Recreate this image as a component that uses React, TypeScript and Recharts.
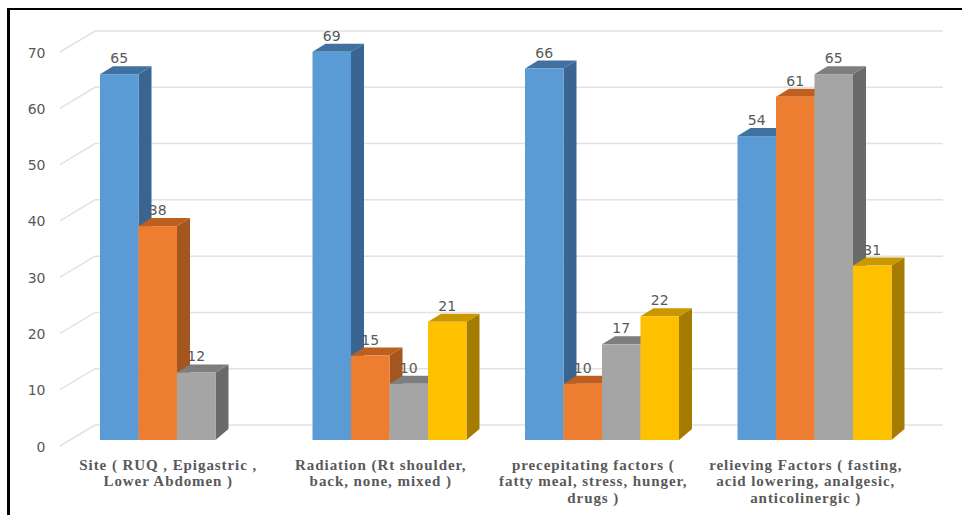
import React from "react";
import { BarChart, Bar, XAxis, YAxis, CartesianGrid, LabelList } from "recharts";

const categoryLines: string[][] = [
  ["Site ( RUQ , Epigastric ,", "Lower Abdomen )"],
  ["Radiation (Rt shoulder,", "back, none, mixed )"],
  ["precepitating factors (", "fatty meal, stress, hunger,", "drugs )"],
  ["relieving Factors ( fasting,", "acid lowering, analgesic,", "anticolinergic )"],
];
const seriesA = [65, 69, 66, 54];
const seriesB = [38, 15, 10, 61];
const seriesC = [12, 10, 17, 65];
const seriesD: (number | null)[] = [null, 21, 22, 31];
const yTicks = [0, 10, 20, 30, 40, 50, 60, 70];

const data = categoryLines.map((lines, i) => ({
  category: lines.join(" "),
  a: seriesA[i],
  b: seriesB[i],
  c: seriesC[i],
  d: seriesD[i],
}));

const DX = 13;
const DY_TOP = 8;
const DY_BASE = 11;
const TEXT = "#595959";

const bar3d = (front: string, side: string, top: string) => (p: any) => {
  const { x, y, width, height } = p;
  if (!height || height <= 0) return <g />;
  const r = x + width;
  const b = y + height;
  return (
    <g>
      <polygon points={`${r},${y} ${r + DX},${y - DY_TOP} ${r + DX},${b - DY_BASE} ${r},${b}`} fill={side} />
      <polygon points={`${x},${y} ${x + DX},${y - DY_TOP} ${r + DX},${y - DY_TOP} ${r},${y}`} fill={top} />
      <rect x={x} y={y} width={width} height={height} fill={front} />
    </g>
  );
};

const valueLabel = (p: any) => {
  const { x, y, width, value } = p;
  if (value == null) return <g />;
  return (
    <text x={x + width / 2} y={y - 11} textAnchor="middle" fontSize={14} fill={TEXT} fontFamily="DejaVu Sans">
      {value}
    </text>
  );
};

const gridLine = (p: any) => {
  const { x1, x2, y1 } = p;
  return (
    <polyline
      key={p.key ?? y1}
      points={`${x1 - 11},${y1 + 6} ${x1 + 24},${y1 - 15} ${x2 + 22},${y1 - 15}`}
      fill="none"
      stroke="#e2e2e2"
      strokeWidth={1.5}
    />
  );
};

const YTick = (p: any) => (
  <text x={p.x - 0.5} y={p.y + 11.5} textAnchor="end" fontSize={14} fill={TEXT} fontFamily="DejaVu Sans">
    {p.payload.value}
  </text>
);

const XTick = (p: any) => {
  const lines = categoryLines[p.payload.index] ?? [];
  return (
    <g>
      {lines.map((line, i) => (
        <text
          key={i}
          x={p.x - 9}
          y={469.5 + i * 16.5}
          textAnchor="middle"
          fontSize={15}
          fontWeight="bold"
          fill={TEXT}
          fontFamily="Liberation Serif"
          letterSpacing={0.93}
        >
          {line}
        </text>
      ))}
    </g>
  );
};

export default function App() {
  return (
    <div style={{ position: "absolute", left: 0, top: 0, width: 962, height: 515, background: "#fff", overflow: "hidden" }}>
      <div
        style={{
          position: "absolute",
          left: 7,
          top: 8,
          width: 955,
          height: 507,
          borderLeft: "3px solid #000",
          borderTop: "2.5px solid #000",
          boxSizing: "border-box",
        }}
      />
      <div style={{ position: "absolute", left: 0, top: 0 }}>
        <BarChart
          width={962}
          height={515}
          data={data}
          margin={{ top: 46, right: 41, bottom: 0, left: 0 }}
          barSize={38.5}
          barGap={0}
        >
          <CartesianGrid vertical={false} horizontal={gridLine} syncWithTicks />
          <XAxis dataKey="category" axisLine={false} tickLine={false} height={75} tick={XTick} interval={0} />
          <YAxis
            width={71}
            domain={[0, 70]}
            ticks={yTicks}
            axisLine={false}
            tickLine={false}
            tickSize={0}
            tickMargin={25}
            tick={YTick}
            interval={0}
          />
          <Bar dataKey="a" isAnimationActive={false} shape={bar3d("#5B9BD5", "#3A6491", "#41729F")}>
            <LabelList dataKey="a" content={valueLabel} />
          </Bar>
          <Bar dataKey="b" isAnimationActive={false} shape={bar3d("#ED7D31", "#A3561F", "#BE5F1F")}>
            <LabelList dataKey="b" content={valueLabel} />
          </Bar>
          <Bar dataKey="c" isAnimationActive={false} shape={bar3d("#A5A5A5", "#6A6A6A", "#7E7E7E")}>
            <LabelList dataKey="c" content={valueLabel} />
          </Bar>
          <Bar dataKey="d" isAnimationActive={false} shape={bar3d("#FFC000", "#A67C00", "#C99700")}>
            <LabelList dataKey="d" content={valueLabel} />
          </Bar>
        </BarChart>
      </div>
    </div>
  );
}
